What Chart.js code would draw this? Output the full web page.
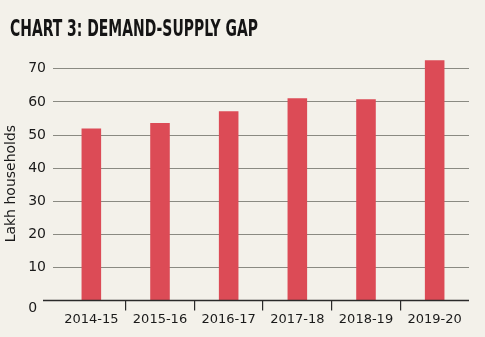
<!DOCTYPE html>
<html>
<head>
<meta charset="utf-8">
<script src="https://cdn.jsdelivr.net/npm/chart.js@4"></script>
<style>
    html, body { margin: 0; padding: 0; background: #f3f1ea; }
    #wrap { position: relative; width: 485px; height: 337px; }
    #title {
        position: absolute; left: 10px; top: 15px;
        font-family: "DejaVu Sans Condensed", "DejaVu Sans"; font-weight: bold;
        font-size: 23px; line-height: 27px; color: #141414;
        white-space: nowrap; transform-origin: 0 0;
    }
    canvas { position: absolute; left: 0; top: 0; }
</style>
</head>
<body>
<div id="wrap">
    <canvas id="chart" width="485" height="337"></canvas>
    <div id="title">CHART 3: DEMAND-SUPPLY GAP</div>
</div>
<script>
// chart values (lakh households)
const years = ['2014-15', '2015-16', '2016-17', '2017-18', '2018-19', '2019-20'];
const gap = [52.0, 53.6, 57.2, 61.1, 60.8, 72.6];
const yTicks = [0, 10, 20, 30, 40, 50, 60, 70];

// squeeze the title to the narrow headline width
const titleEl = document.getElementById('title');
function fitTitle() {
    titleEl.style.transform = 'none';
    titleEl.style.transform = 'scaleX(' + (248 / titleEl.scrollWidth) + ')';
}
fitTitle();
if (document.fonts) document.fonts.ready.then(fitTitle);

const FONT = '"DejaVu Sans", sans-serif';

// long baseline at zero, running out under the tick labels
const baseline = {
    id: 'baseline',
    afterDatasetsDraw(chart) {
        const y = chart.scales.y.getPixelForValue(0);
        const ctx = chart.ctx;
        ctx.save();
        ctx.strokeStyle = '#2a2a2a';
        ctx.lineWidth = 1.5;
        ctx.beginPath();
        ctx.moveTo(chart.chartArea.left - 14, y);
        ctx.lineTo(chart.chartArea.right, y);
        ctx.stroke();
        ctx.restore();
    }
};

new Chart(document.getElementById('chart'), {
    type: 'bar',
    data: {
        labels: years,
        datasets: [{
            data: gap,
            backgroundColor: '#dc4b56',
            categoryPercentage: 1,
            barPercentage: 0.285
        }]
    },
    plugins: [baseline],
    options: {
        responsive: false,
        animation: false,
        layout: { padding: { top: 49, right: 16, bottom: 9, left: 1 } },
        plugins: { legend: { display: false }, tooltip: { enabled: false } },
        scales: {
            x: {
                offset: true,
                border: { display: false },
                grid: {
                    offset: true,
                    drawOnChartArea: false,
                    tickLength: 10,
                    // only the dividers between categories, not the two ends
                    color: (c) => (c.type !== 'tick' || c.index === 0) ? 'rgba(0,0,0,0)' : '#2a2a2a',
                    lineWidth: 1.2
                },
                ticks: { color: '#1a1a1a', font: { family: FONT, size: 13 }, padding: 1, maxRotation: 0, autoSkip: false }
            },
            y: {
                min: 0,
                max: 76,
                afterBuildTicks: (scale) => {
                    scale.ticks = yTicks.map(v => ({ value: v }));
                },
                afterFit: (scale) => { scale.width = 56; },
                border: { display: false },
                grid: { color: '#8a8a82', lineWidth: 1, tickLength: 4 },
                ticks: {
                    color: '#1a1a1a',
                    font: { family: FONT, size: 14 },
                    padding: 7,
                    autoSkip: false,
                    crossAlign: 'center',
                    callback: (v) => v === 0 ? ['', '0  '] : String(v)
                },
                title: {
                    display: true,
                    text: 'Lakh households    ',
                    color: '#1a1a1a',
                    font: { family: FONT, size: 14 },
                    padding: { top: 2, bottom: 2 }
                }
            }
        }
    }
});
</script>
</body>
</html>
